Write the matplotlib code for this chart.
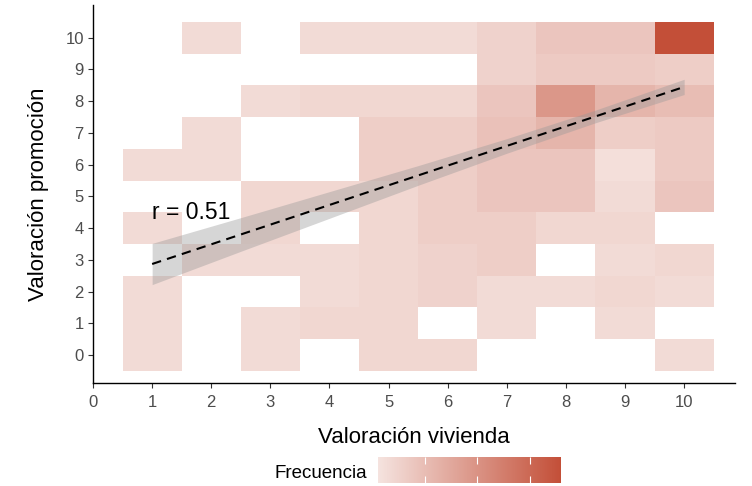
import numpy as np
import matplotlib
matplotlib.use('Agg')
import matplotlib.pyplot as plt
from matplotlib.colors import LinearSegmentedColormap

plt.rcParams['font.family'] = ['Liberation Sans', 'DejaVu Sans']

# datos
vivienda = [1, 2, 3, 4, 5, 6, 7, 8, 9, 10]
promocion = [0, 1, 2, 3, 4, 5, 6, 7, 8, 9, 10]

# frecuencia[fila de promocion 0..10][columna de vivienda 1..10], 0 = sin casilla
frecuencia = [
    [3, 0, 3, 0, 4, 4, 0, 0, 0, 3],    # 0
    [3, 0, 3, 4, 4, 0, 3, 0, 3, 0],    # 1
    [3, 0, 0, 3, 4, 5, 3, 3, 4, 3],    # 2
    [0, 3, 3, 3, 4, 5, 6, 0, 3, 4],    # 3
    [3, 0, 4, 0, 4, 6, 6, 4, 4, 0],    # 4
    [0, 0, 4, 4, 4, 6, 8, 8, 3, 8],    # 5
    [3, 3, 0, 0, 6, 6, 8, 8, 2, 7],    # 6
    [0, 3, 0, 0, 6, 6, 9, 12, 6, 7],   # 7
    [0, 0, 3, 4, 4, 4, 8, 19, 12, 10], # 8
    [0, 0, 0, 0, 0, 0, 5, 7, 7, 6],    # 9
    [0, 3, 0, 3, 3, 3, 5, 8, 8, 36],   # 10
]

# recta de regresion y banda de confianza
fit_x = [1, 10]
fit_y = [2.87, 8.45]
band_x = [1, 2.5, 4, 5.5, 7, 8.5, 10]
band_lo = [2.22, 3.27, 4.31, 5.35, 6.36, 7.32, 8.21]
band_hi = [3.52, 4.33, 5.15, 5.97, 6.82, 7.72, 8.69]
r_text = 'r = 0.51'

escala_min = 1
escala_max = 36
escala_ticks = [10, 20, 30]


def main():
    fig = plt.figure(figsize=(7.52, 4.86), dpi=100)
    ax = fig.add_axes([0.1237, 0.2119, 0.8537, 0.7778])

    cmap = LinearSegmentedColormap.from_list('rojos', ['#f5e3df', '#c34f38'])
    datos = np.ma.masked_equal(np.array(frecuencia, dtype=float), 0)
    x_edges = np.array(vivienda + [vivienda[-1] + 1]) - 0.5
    y_edges = np.array(promocion + [promocion[-1] + 1]) - 0.5
    malla = ax.pcolormesh(x_edges, y_edges, datos, cmap=cmap,
                          vmin=escala_min, vmax=escala_max, zorder=1)

    ax.fill_between(band_x, band_lo, band_hi, color='#999999', alpha=0.4,
                    linewidth=0, zorder=2)
    ax.plot(fit_x, fit_y, color='black', linewidth=1.5, dashes=(4.5, 3), zorder=3)
    ax.text(1.0, 4.5, r_text, fontsize=16.5, ha='left', va='center', zorder=4)

    ax.set_xlim(0, 10.86)
    ax.set_ylim(-0.88, 11.03)
    ax.set_xticks(range(0, 11))
    ax.set_yticks(promocion)
    for side in ['top', 'right']:
        ax.spines[side].set_visible(False)
    for side in ['left', 'bottom']:
        ax.spines[side].set_linewidth(1.0)
    ax.tick_params(length=3.6, width=0.8, colors='#333333', labelcolor='#4d4d4d',
                   labelsize=12)
    ax.tick_params(axis='x', pad=5)
    ax.tick_params(axis='y', pad=3)
    ax.set_xlabel('Valoración vivienda', fontsize=16, labelpad=12)
    ax.set_ylabel('Valoración promoción', fontsize=16, labelpad=12)

    cax = fig.add_axes([378 / 752, 1 - 483 / 486, 183 / 752, 26 / 486])
    cbar = fig.colorbar(malla, cax=cax, orientation='horizontal')
    cbar.outline.set_visible(False)
    cbar.set_ticks(escala_ticks)
    cax.tick_params(direction='in', colors='white', length=5, width=0.8,
                    top=True, bottom=True, labelbottom=False)
    fig.text(367 / 752, 1 - 473 / 486, 'Frecuencia', fontsize=13.5,
             ha='right', va='center')

    fig.savefig('out.png', dpi=100)


if __name__ == '__main__':
    main()
